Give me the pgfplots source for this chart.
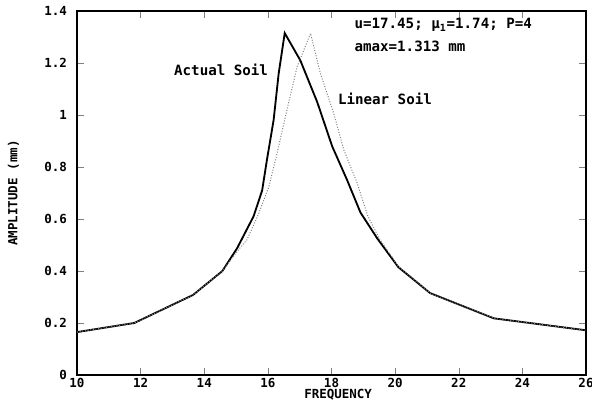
\documentclass[border=0pt]{standalone}
\usepackage{fontspec}
\setmainfont{DejaVu Sans Mono}
\usepackage{pgfplots}
\pgfplotsset{compat=1.18}

% amplitude vs. frequency
\pgfplotstableread{
f      a
10.0   0.165
11.8   0.200
13.65  0.308
14.57  0.400
15.03  0.487
15.55  0.610
15.82  0.710
15.97  0.827
16.18  0.980
16.34  1.160
16.53  1.315
17.02  1.210
17.55  1.050
18.02  0.880
18.49  0.750
18.91  0.625
19.44  0.525
20.10  0.415
21.10  0.315
23.10  0.218
26.0   0.172
}\actualsoil

\pgfplotstableread{
f      a
10.0   0.165
11.8   0.200
13.65  0.308
14.57  0.400
15.03  0.475
15.34  0.520
15.71  0.620
16.03  0.724
16.29  0.853
16.60  1.020
16.92  1.186
17.34  1.314
17.65  1.160
18.07  1.006
18.39  0.865
18.81  0.737
19.13  0.615
19.50  0.525
20.10  0.418
21.10  0.315
23.10  0.218
26.0   0.172
}\linearsoil

\begin{document}
\begin{tikzpicture}
\begin{axis}[
    scale only axis, width=305.4pt, height=218.4pt,
    xmin=10, xmax=26, ymin=0, ymax=1.4,
    xtick={10,12,...,26}, ytick={0,0.2,...,1.4},
    /pgf/number format/assume math mode=true,
    tick label style={font=\bfseries\fontsize{7.5}{8}\selectfont},
    xticklabel style={inner sep=1pt, yshift=-1pt},
    yticklabel style={xshift=-2.5pt},
    axis line style={line width=0.9pt},
    xlabel={FREQUENCY}, ylabel={AMPLITUDE (mm)},
    label style={font=\bfseries\fontsize{7.5}{8}\selectfont},
    xlabel style={at={(axis description cs:0.513,0)}, anchor=center, inner sep=0pt, yshift=-12pt},
    ylabel style={at={(axis description cs:-0.125,0.5)}, anchor=center},
]
\addplot[black, line width=1.1pt] table[x=f, y=a] {\actualsoil};
\addplot[gray, densely dotted, line width=0.6pt] table[x=f, y=a] {\linearsoil};
\node[anchor=west, font=\bfseries\fontsize{8.5}{9}\selectfont] at (axis cs:18.54,1.346) {u=17.45; μ\textsubscript{1}=1.74; P=4};
\node[anchor=west, font=\bfseries\fontsize{8.5}{9}\selectfont] at (axis cs:18.54,1.265) {amax=1.313 mm};
\node[anchor=west, font=\bfseries\fontsize{8.5}{9}\selectfont] at (axis cs:12.87,1.172) {Actual Soil};
\node[anchor=west, font=\bfseries\fontsize{8.5}{9}\selectfont] at (axis cs:18.02,1.062) {Linear Soil};
\end{axis}
\pgfresetboundingbox
\path[use as bounding box] (current axis.south west) ++(-46.2pt,-15pt) rectangle ([shift={(3.6pt,6.6pt)}]current axis.north east);
\end{tikzpicture}
\end{document}
